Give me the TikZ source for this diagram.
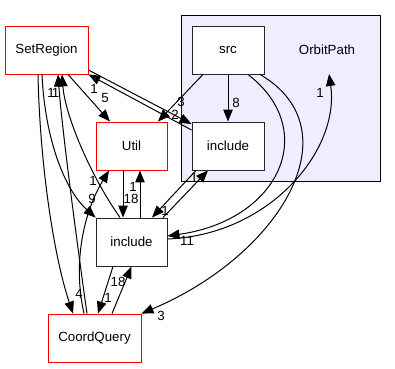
\documentclass[tikz,border=0pt]{standalone}
\usepackage{fontspec}
\setmainfont{Liberation Sans}
\usetikzlibrary{arrows.meta}

\definecolor{clusterbg}{HTML}{EEEEFF}

\begin{document}
\begin{tikzpicture}[x=1pt, y=-1pt,
		dir/.style={draw=black!85, fill=white, line width=0.9pt, minimum width=72pt, minimum height=48pt,
			inner sep=0pt, font=\fontsize{13.3}{16}\selectfont},
		ext/.style={dir, draw=red},
		dep/.style={line width=1pt, -{Triangle[length=12pt, width=9.5pt]}},
		lbl/.style={inner sep=0pt, font=\fontsize{13.3}{16}\selectfont}]
		\useasboundingbox (0,0) rectangle (395,368);

		% Cluster
		\draw[fill=clusterbg, line width=1pt] (181,15) rectangle (380,181);
		\node[lbl] (orbitpath) at (327,50) {OrbitPath};
		\coordinate (orbitin) at (329,74);

		% Nodes
		\node[ext, minimum width=83pt] (setregion) at (46.5,50) {SetRegion};
		\node[dir] (src) at (228,50) {src};
		\node[dir] (orbitinclude) at (228,146) {include};
		\node[ext, minimum width=71pt] (util) at (131.5,146) {Util};
		\node[dir, minimum width=71pt] (include) at (131.5,242) {include};
		\node[ext, minimum width=93pt] (coordquery) at (94.5,338) {CoordQuery};

		% Edges
		\draw[dep] ([xshift=21.5pt]setregion.south) -- ([xshift=-21.5pt]util.north);
		\draw[dep] ([yshift=-20pt]setregion.east) -- ([yshift=22pt]orbitinclude.west);
		\draw[dep] ([yshift=16pt]orbitinclude.west) -- (setregion.south east);
		\draw[dep] ([xshift=-25pt]src.south) -- ([xshift=26.5pt]util.north);
		\draw[dep] (src) -- (orbitinclude);
		\draw[dep] ([xshift=20pt]src.south) .. controls (320,130) and (280,220) .. ([yshift=6pt]include.east);
		\draw[dep] ([xshift=32pt]src.south) .. controls (355,130) and (280,255) .. (coordquery.north east);
		\draw[dep] ([yshift=3pt]include.east) .. controls (270,235) and (340,150) .. (orbitin);
		\draw[dep] ([xshift=-8.5pt]setregion.south) .. controls (40,170) and (55,260) .. ([xshift=-21.5pt]coordquery.north);
		\draw[dep] ([xshift=-4.5pt]setregion.south) .. controls (45,140) and (65,190) .. (include.north west);
		\draw[dep] ([xshift=-7.5pt]coordquery.north) .. controls (78,250) and (62,130) .. ([xshift=11.5pt]setregion.south);
		\draw[dep] ([xshift=-11.5pt]include.north) .. controls (90,175) and (65,115) .. ([xshift=15.5pt]setregion.south);
		\draw[dep] ([xshift=-10.5pt]coordquery.north) .. controls (72,260) and (85,210) .. ([xshift=-22.5pt]util.south);
		\draw[dep] ([xshift=-8.5pt]util.south) -- ([xshift=-8.5pt]include.north);
		\draw[dep] ([xshift=8.5pt]include.north) -- ([xshift=8.5pt]util.south);
		\draw[dep] ([xshift=-32pt]orbitinclude.south) -- ([xshift=20.5pt]include.north);
		\draw[dep] ([xshift=31.5pt]include.north) -- ([xshift=-20pt]orbitinclude.south);
		\draw[dep] ([xshift=-18.5pt]include.south) -- ([xshift=3.5pt]coordquery.north);
		\draw[dep] ([xshift=17.5pt]coordquery.north) -- (include.south);

		% Edge counts
		\foreach \x/\y/\lab [count=\i] in {105/98/5, 94/89/1, 181/102/3, 175/115/2, 236/103/8,
				187/241/11, 161/316/3, 320/93/1, 79/294/4, 92/199/9, 51/93/1, 55.5/93/1,
				93/181/1, 131/199/18, 133/187/1, 165/211/1, 194/178/1, 118/282/18, 108/298/1}
			\node[lbl] (num\i) at (\x,\y) {\lab};
	\end{tikzpicture}
\end{document}
